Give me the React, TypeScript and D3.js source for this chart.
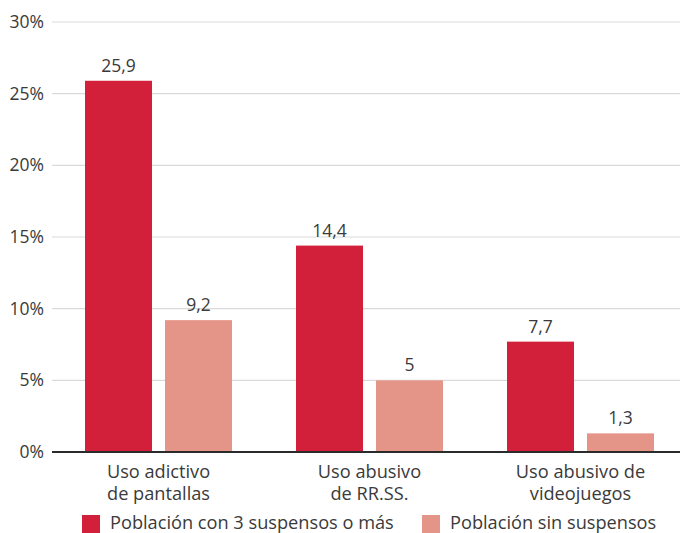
import React from "react";
import * as d3 from "d3";

const categories = [
  ["Uso adictivo", "de pantallas"],
  ["Uso abusivo", "de RR.SS."],
  ["Uso abusivo de", "videojuegos"],
];
const seriesNames = ["Población con 3 suspensos o más", "Población sin suspensos"];
const seriesA = [25.9, 14.4, 7.7];
const seriesB = [9.2, 5, 1.3];
const yTicks = [0, 5, 10, 15, 20, 25, 30];
const colors = ["#d21f3a", "#e59588"];

const W = 680, H = 533;
const fmt = (v: number) => String(v).replace(".", ",");

export default function App() {
  const x0 = d3.scaleBand<number>().domain([0, 1, 2]).range([53, 686]).paddingInner(0).paddingOuter(0);
  const y = d3.scaleLinear().domain([0, 30]).range([452, 22]);
  const barW = 67, gap = 13;
  const font = "'Open Sans', sans-serif";
  const txt = "#3a3a3a";
  const fs = 17.5;
  const fl = 18.2;
  return (
    <svg width={W} height={H} style={{ position: "absolute", left: 0, top: 0 }} fontFamily={font}>
      {yTicks.map((t) => (
        <g key={t}>
          {t > 0 && <line x1={52} x2={680} y1={y(t)} y2={y(t)} stroke="#dadada" strokeWidth={1.2} />}
          <text x={44} y={y(t)} dy="0.35em" textAnchor="end" fontSize={fs} fill={txt}>{t}%</text>
        </g>
      ))}
      {[seriesA, seriesB].map((s, si) =>
        s.map((v, i) => {
          const c = x0(i)! + x0.bandwidth() / 2;
          const bx = si === 0 ? c - gap / 2 - barW : c + gap / 2;
          return (
            <g key={`${si}-${i}`}>
              <rect x={bx} y={y(v)} width={barW} height={y(0) - y(v)} fill={colors[si]} />
              <text x={bx + barW / 2} y={y(v) - 9} textAnchor="middle" fontSize={fs} fill={txt}>{fmt(v)}</text>
            </g>
          );
        })
      )}
      <line x1={52} x2={680} y1={452} y2={452} stroke="#2b2b2b" strokeWidth={2} />
      {categories.map((lines, i) => {
        const c = x0(i)! + x0.bandwidth() / 2;
        return (
          <g key={i}>
            {lines.map((l, j) => (
              <text key={j} x={c} y={478 + j * 22} textAnchor="middle" fontSize={fl} fill={txt}>{l}</text>
            ))}
          </g>
        );
      })}
      {seriesNames.map((n, i) => {
        const lx = i === 0 ? 82 : 422;
        return (
          <g key={n}>
            <rect x={lx} y={515} width={18} height={18} fill={colors[i]} />
            <text x={lx + 28} y={529} fontSize={fl} fill={txt}>{n}</text>
          </g>
        );
      })}
    </svg>
  );
}
